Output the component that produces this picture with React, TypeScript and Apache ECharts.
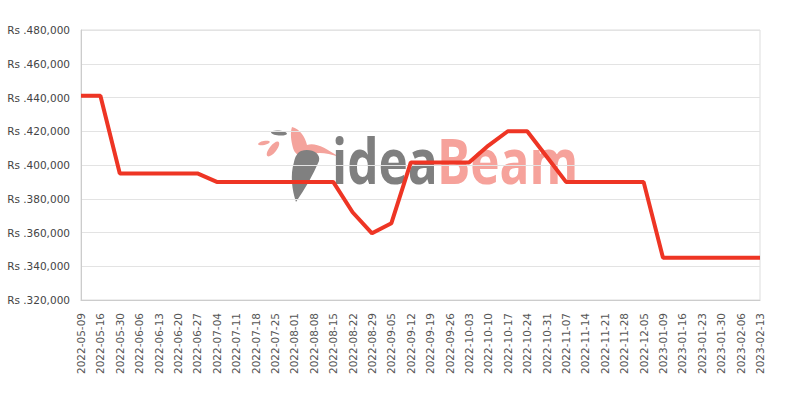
import React, { useEffect, useRef } from "react";
import * as echarts from "echarts";

const categories = [
  "2022-05-09", "2022-05-16", "2022-05-30", "2022-06-06", "2022-06-13", "2022-06-20",
  "2022-06-27", "2022-07-04", "2022-07-11", "2022-07-18", "2022-07-25", "2022-08-01",
  "2022-08-08", "2022-08-15", "2022-08-22", "2022-08-29", "2022-09-05", "2022-09-12",
  "2022-09-19", "2022-09-26", "2022-10-03", "2022-10-10", "2022-10-17", "2022-10-24",
  "2022-10-31", "2022-11-07", "2022-11-14", "2022-11-21", "2022-11-28", "2022-12-05",
  "2023-01-09", "2023-01-16", "2023-01-23", "2023-01-30", "2023-02-06", "2023-02-13",
];

const prices = [
  441000, 441000, 395000, 395000, 395000, 395000,
  395000, 390000, 390000, 390000, 390000, 390000,
  390000, 390000, 372000, 359500, 365500, 401500,
  401500, 401500, 401500, 411500, 420000, 420000,
  405000, 390000, 390000, 390000, 390000, 390000,
  345000, 345000, 345000, 345000, 345000, 345000,
];

const yMin = 320000;
const yMax = 480000;
const yStep = 20000;

const birdPath =
  "M292,127 C300,129 305,137 307,145 C315,142 326,148 339,157 C326,152 316,152 309,155 C301,158 295,155 293,148 C291,140 290,133 292,127 Z";
const featherPath =
  "M301,151 C311,148 321,153 319,161 C313,175 305,189 296,202 C292,190 290,175 294,162 C295,157 297,153 301,151 Z";

export default function App() {
  const ref = useRef<HTMLDivElement>(null);
  useEffect(() => {
    document.body.style.margin = "0";
    if (!ref.current) return;
    echarts.graphic.registerShape("bird", (echarts.graphic as any).extendPath(birdPath, {}));
    echarts.graphic.registerShape("feather", (echarts.graphic as any).extendPath(featherPath, {}));
    const chart = echarts.init(ref.current, undefined, { renderer: "svg" });
    chart.setOption({
      animation: false,
      grid: {
        left: 81,
        right: 40,
        top: 30,
        bottom: 100,
        show: true,
        borderColor: "#dddddd",
        borderWidth: 1,
      },
      graphic: [
        { type: "bird", x: 0, y: 0, z: 0, style: { fill: "#f4a39c" } },
        { type: "feather", x: 0, y: 0, z: 0, style: { fill: "#808080" } },
        {
          type: "ellipse", x: 264, y: 143, rotation: 0.2, z: 0,
          shape: { cx: 0, cy: 0, rx: 6, ry: 2 }, style: { fill: "#f4a39c" },
        },
        {
          type: "ellipse", x: 273, y: 149, rotation: 0.9, z: 0,
          shape: { cx: 0, cy: 0, rx: 9, ry: 3.5 }, style: { fill: "#f4a39c" },
        },
        {
          type: "ellipse", x: 279, y: 133, rotation: -0.1, z: 0,
          shape: { cx: 0, cy: 0, rx: 8, ry: 2.5 }, style: { fill: "#808080" },
        },
        {
          type: "text", x: 332, y: 191, z: 0, scaleX: 0.8,
          style: {
            text: "idea", fill: "#7f7f7f", font: "bold 62px 'Open Sans'",
            verticalAlign: "bottom",
          },
        },
        {
          type: "text", x: 437, y: 191, z: 0, scaleX: 0.8,
          style: {
            text: "Beam", fill: "#f6a29b", font: "bold 62px 'Open Sans'",
            verticalAlign: "bottom",
          },
        },
      ],
      xAxis: {
        type: "category",
        data: categories,
        boundaryGap: false,
        axisLine: { lineStyle: { color: "#cccccc" } },
        axisTick: { show: false },
        axisLabel: {
          rotate: 90,
          interval: 0,
          margin: 13,
          fontSize: 10.5,
          color: "#555555",
          fontFamily: "DejaVu Sans",
        },
        splitLine: { show: false },
      },
      yAxis: {
        type: "value",
        min: yMin,
        max: yMax,
        interval: yStep,
        axisLine: { show: true, lineStyle: { color: "#cccccc" } },
        axisTick: { show: false },
        axisLabel: {
          margin: 11,
          fontSize: 10.5,
          color: "#444444",
          fontFamily: "DejaVu Sans",
          formatter: (v: number) => "Rs ." + v.toLocaleString("en-US"),
        },
        splitLine: { lineStyle: { color: "#e3e3e3" } },
      },
      series: [
        {
          type: "line",
          data: prices,
          showSymbol: false,
          symbol: "none",
          z: 5,
          lineStyle: { color: "#ee3524", width: 4 },
        },
      ],
    });
    return () => chart.dispose();
  }, []);
  return <div ref={ref} style={{ position: "absolute", left: 0, top: 0, width: 800, height: 400 }} />;
}
